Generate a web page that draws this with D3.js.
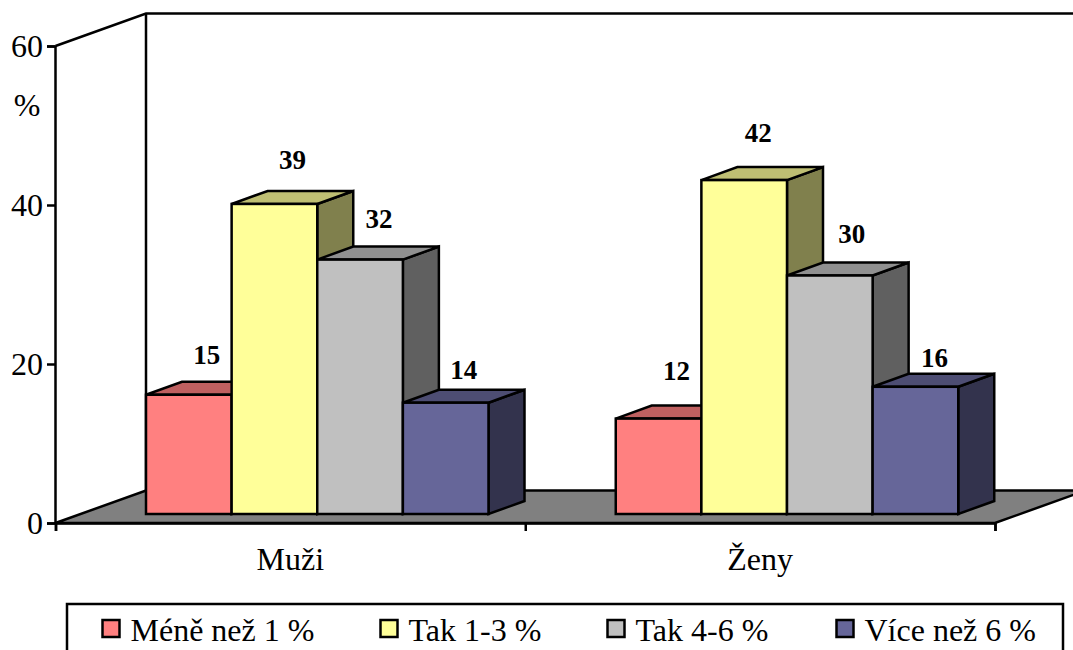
<!DOCTYPE html>
<html><head><meta charset="utf-8">
<script src="https://cdn.jsdelivr.net/npm/d3@7"></script>
<style>
html,body{margin:0;padding:0;background:#fff;overflow:hidden}
svg{display:block}
text{font-family:"Liberation Serif",serif;fill:#000}
</style></head><body>
<svg id="c" width="1073" height="650"></svg>
<script>
const categories = ["Muži", "Ženy"];
const seriesNames = ["Méně než 1 %", "Tak 1-3 %", "Tak 4-6 %", "Více než 6 %"];
const lessThan1 = [15, 12];
const from1to3 = [39, 42];
const from4to6 = [32, 30];
const moreThan6 = [14, 16];
const yTicks = [0, 20, 40, 60];
const seriesValues = [lessThan1, from1to3, from4to6, moreThan6];

// Styling and layout, separate from the data
const frontColors = ["#FF8080", "#FFFF99", "#C0C0C0", "#666699"];
const topColors = ["#BF6060", "#BFBF73", "#909090", "#4D4D73"];
const sideColors = ["#804040", "#80804D", "#606060", "#33334D"];
const labelNudge = [ // [series][category] → [dx, baseline above bar top]
  [[0, 31], [0, 39]],
  [[0, 35], [-4, 38]],
  [[1, 32], [4, 33]],
  [[0, 24], [1, 20]]
];
const legendSwatchX = [102.5, 380.5, 607.5, 836.5];
const strokeW = 2.5;

const svg = d3.select("#c");
const x0 = 55.5, xEnd = 995, yBase = 523, yTop = 46;
const wallDx = 90.5, wallDy = -32.5;
const barDx = 36, barDy = -13, baseLift = 9;

const y = d3.scaleLinear().domain([0, 60]).range([yBase, yTop]);
const xCat = d3.scaleBand().domain(categories).range([x0, xEnd]);
const xSer = d3.scaleBand().domain(seriesNames).range([0, 342.5]);
const barStart = 90.5;

const pts = a => a.map(p => p.join(",")).join(" ");
const ink = s => s.attr("stroke", "#000").attr("stroke-width", strokeW).attr("stroke-linejoin", "miter");

// Walls
const xb = x0 + wallDx, ybTop = yTop + wallDy, ybBase = yBase + wallDy;
const wall = svg.append("g");
wall.append("polyline").attr("fill", "none").call(ink)
  .attr("points", pts([[x0, yTop], [xb, ybTop], [xEnd + wallDx, ybTop]]));
wall.append("line").attr("x1", xb).attr("x2", xb).attr("y1", ybTop).attr("y2", ybBase).call(ink);

// Floor
svg.append("polygon").attr("fill", "#808080").call(ink)
  .attr("points", pts([[x0, yBase], [xb, ybBase], [xEnd + wallDx, ybBase], [xEnd, yBase]]));

// Axes
const yAxis = d3.axisLeft(y).tickValues(yTicks).tickSize(8).tickPadding(4);
const gy = svg.append("g").attr("transform", `translate(${x0 - 0.5},0)`).call(yAxis);
gy.select(".domain").attr("stroke", "#000").attr("stroke-width", strokeW);
gy.selectAll(".tick line").attr("stroke", "#000").attr("stroke-width", strokeW);
gy.selectAll(".tick text").attr("font-family", "Liberation Serif").attr("font-size", 32).attr("fill", "#000");

const xBound = d3.scaleLinear().domain([0, categories.length]).range([x0, xEnd]);
const xAxis = d3.axisBottom(xBound).tickValues(d3.range(categories.length + 1)).tickSize(8).tickFormat("");
const gx = svg.append("g").attr("transform", `translate(0,${yBase})`).call(xAxis);
gx.select(".domain").attr("stroke", "#000").attr("stroke-width", strokeW);
gx.selectAll(".tick line").attr("stroke", "#000").attr("stroke-width", strokeW);

svg.append("text").attr("x", 27).attr("y", 116).attr("text-anchor", "middle").attr("font-size", 32).text("%");

// Bars
categories.forEach((cat, c) => {
  const g = svg.append("g");
  seriesNames.forEach((name, s) => {
    const l = xCat(cat) + barStart + xSer(name), r = l + xSer.bandwidth();
    const b = y(0) - baseLift, t = y(seriesValues[s][c]) - baseLift;
    g.append("polygon").attr("fill", sideColors[s]).call(ink)
      .attr("points", pts([[r, b], [r, t], [r + barDx, t + barDy], [r + barDx, b + barDy]]));
    g.append("polygon").attr("fill", topColors[s]).call(ink)
      .attr("points", pts([[l, t], [l + barDx, t + barDy], [r + barDx, t + barDy], [r, t]]));
    g.append("rect").attr("x", l).attr("y", t).attr("width", r - l).attr("height", b - t)
      .attr("fill", frontColors[s]).call(ink);
  });
  seriesNames.forEach((name, s) => {
    const [dx, up] = labelNudge[s][c];
    svg.append("text")
      .attr("x", xCat(cat) + barStart + xSer(name) + xSer.bandwidth() / 2 + 18 + dx)
      .attr("y", y(seriesValues[s][c]) - baseLift - up)
      .attr("text-anchor", "middle").attr("font-size", 27).attr("font-weight", "bold")
      .text(seriesValues[s][c]);
  });
  svg.append("text")
    .attr("x", xCat(cat) + xCat.bandwidth() / 2).attr("y", 570)
    .attr("text-anchor", "middle").attr("font-size", 32).text(cat);
});

// Legend (runs past the bottom of the picture, as in the reference)
svg.append("rect").attr("x", 67).attr("y", 604).attr("width", 996).attr("height", 60)
  .attr("fill", "#fff").call(ink);
seriesNames.forEach((name, s) => {
  svg.append("rect").attr("x", legendSwatchX[s]).attr("y", 620).attr("width", 17).attr("height", 17)
    .attr("fill", frontColors[s]).call(ink);
  svg.append("text").attr("x", legendSwatchX[s] + 28).attr("y", 641).attr("font-size", 32).text(name);
});
</script>
</body></html>
